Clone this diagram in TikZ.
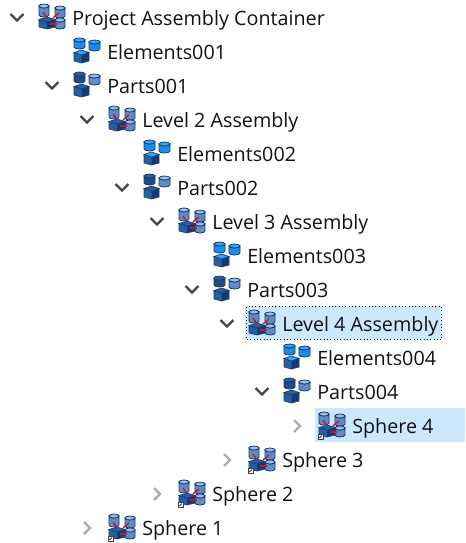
\documentclass[tikz,border=0pt]{standalone}
\usepackage{fontspec}
\setmainfont{Open Sans}
\usetikzlibrary{arrows.meta,positioning,calc}
\definecolor{TreeSelect}{HTML}{CCE8FF}
\definecolor{TreeText}{HTML}{111111}
\definecolor{CubeDark}{HTML}{143A70}
\definecolor{CubeMid}{HTML}{245FA6}
\definecolor{CylSteel}{HTML}{5F8CC6}
\definecolor{CylSteelTop}{HTML}{9DBBE0}
\definecolor{CylLine}{HTML}{1B3D70}
\definecolor{CylBright}{HTML}{1A8CEE}
\definecolor{CylBrightTop}{HTML}{2AA8FF}
\definecolor{CylNavy}{HTML}{1F4A86}
\definecolor{CylNavyTop}{HTML}{2C5C9C}
\definecolor{LinkRed}{HTML}{D0142C}
\definecolor{ChevDark}{HTML}{464646}
\definecolor{ChevLight}{HTML}{ABABAB}
% cylinder: x, y (top left), width, height, body colour, top colour
\newcommand{\cylshape}[6]{
  \fill[#5,draw=CylLine,line width=0.6pt] (#1,#2+2) -- (#1,#2+#4-2)
    arc[start angle=180,end angle=0,x radius=#3/2,y radius=2] -- (#1+#3,#2+2)
    arc[start angle=0,end angle=180,x radius=#3/2,y radius=2] -- cycle;
  \fill[#6,draw=CylLine,line width=0.6pt] (#1+#3/2,#2+2) ellipse[x radius=#3/2,y radius=2];
}
% cube: x, y (top left), width, height, top colour
\newcommand{\cubeshape}[5]{
  \fill[CubeDark,draw=CylLine,line width=0.5pt] (#1,#2+2.5) -- (#1+#3/2,#2+5) -- (#1+#3,#2+2.5)
    -- (#1+#3,#2+#4-2) -- (#1+#3/2,#2+#4) -- (#1,#2+#4-2) -- cycle;
  \fill[CubeMid] (#1+0.4,#2+2.9) -- (#1+#3/2,#2+5.4) -- (#1+#3/2,#2+#4-0.5) -- (#1+0.4,#2+#4-2.2) -- cycle;
  \fill[#5,draw=CylLine,line width=0.5pt] (#1,#2+2.5) -- (#1+#3/2,#2) -- (#1+#3,#2+2.5) -- (#1+#3/2,#2+5) -- cycle;
}
\begin{document}
\begin{tikzpicture}[
    x=0.75pt,y=-0.75pt,
    label/.style={
      anchor=base west,
      inner sep=0pt,
      text=TreeText,
      font=\fontsize{14.8}{16}\selectfont
    },
    open/.style={
      draw=ChevDark,
      line width=1.8pt
    },
    shut/.style={
      draw=ChevLight,
      line width=1.8pt
    },
    selected/.style={
      fill=TreeSelect
    },
    focus/.style={
      draw=black,
      line width=0.5pt,
      dotted
    },
    link/.style={
      draw=LinkRed,
      line width=1.1pt
    },
    badge/.style={
      fill=white,
      draw=black!75,
      line width=0.35pt
    },
    assembly/.pic={
      \cylshape{-13}{-14}{10}{13}{CylSteel}{CylSteelTop}
      \cylshape{3}{-12}{10}{12}{CylSteel}{CylSteelTop}
      \cylshape{3}{0}{10}{11}{CylSteel}{CylSteelTop}
      \cubeshape{-13}{-1}{16}{12}{CubeMid}
      \draw[link] (-9,-6) -- (-5,0);
      \draw[link] (7,-5) -- (1,0);
      \draw[link] (-2,6) -- (5,6);
    },
    elements/.pic={
      \cylshape{-13}{-14}{11}{11}{CylBright}{CylBrightTop}
      \cylshape{2}{-12}{11}{11}{CylBright}{CylBrightTop}
      \cubeshape{-13}{-2}{15}{13}{CylBrightTop}
    },
    partsset/.pic={
      \cylshape{-13}{-14}{11}{11}{CylNavy}{CylNavyTop}
      \cylshape{2}{-12}{11}{11}{CylSteel}{CylSteelTop}
      \cubeshape{-13}{-2}{15}{13}{CylNavyTop}
    },
    shortcut/.pic={
      \draw[badge] (-14,8.5) rectangle (-9,13);
      \draw[black,line width=0.5pt] (-12.8,12) -- (-10,9.5);
    }
  ]
  \useasboundingbox (0,0) rectangle (465,543);

  % Selection
  \fill[selected] (245,306) rectangle (442,340);
  \draw[focus] (246.5,306.5) rectangle (441.5,339.5);
  \fill[selected] (315,408) rectangle (465,442);

  % Expanded rows
  \draw[open] (10.5,14) -- (17,20.5) -- (23.5,14);
  \draw[open] (45.5,82) -- (52,88.5) -- (58.5,82);
  \draw[open] (80.5,116) -- (87,122.5) -- (93.5,116);
  \draw[open] (115.5,184) -- (122,190.5) -- (128.5,184);
  \draw[open] (150.5,218) -- (157,224.5) -- (163.5,218);
  \draw[open] (185.5,286) -- (192,292.5) -- (198.5,286);
  \draw[open] (220.5,320) -- (227,326.5) -- (233.5,320);
  \draw[open] (255.5,388) -- (262,394.5) -- (268.5,388);

  % Collapsed rows
  \draw[shut] (294,420) -- (300,426) -- (294,432);
  \draw[shut] (224,454) -- (230,460) -- (224,466);
  \draw[shut] (154,488) -- (160,494) -- (154,500);
  \draw[shut] (84,522) -- (90,528) -- (84,534);

  % Icons
  \pic at (52,18) {assembly};
  \pic at (87,52) {elements};
  \pic at (87,86) {partsset};
  \pic at (122,120) {assembly};
  \pic at (157,154) {elements};
  \pic at (157,188) {partsset};
  \pic at (192,222) {assembly};
  \pic at (227,256) {elements};
  \pic at (227,290) {partsset};
  \pic at (262,324) {assembly};
  \pic at (297,358) {elements};
  \pic at (297,392) {partsset};
  \pic at (332,426) {assembly};
  \pic at (332,426) {shortcut};
  \pic at (262,460) {assembly};
  \pic at (262,460) {shortcut};
  \pic at (192,494) {assembly};
  \pic at (192,494) {shortcut};
  \pic at (122,528) {assembly};
  \pic at (122,528) {shortcut};

  % Labels
  \node[label] (container) at (72,25) {Project Assembly Container};
  \node[label] (elements1) at (107,59) {Elements001};
  \node[label] (parts1)    at (107,93) {Parts001};
  \node[label] (level2)    at (142,127) {Level 2 Assembly};
  \node[label] (elements2) at (177,161) {Elements002};
  \node[label] (parts2)    at (177,195) {Parts002};
  \node[label] (level3)    at (212,229) {Level 3 Assembly};
  \node[label] (elements3) at (247,263) {Elements003};
  \node[label] (parts3)    at (247,297) {Parts003};
  \node[label] (level4)    at (282,331) {Level 4 Assembly};
  \node[label] (elements4) at (317,365) {Elements004};
  \node[label] (parts4)    at (317,399) {Parts004};
  \node[label] (sphere4)   at (352,433) {Sphere 4};
  \node[label] (sphere3)   at (282,467) {Sphere 3};
  \node[label] (sphere2)   at (212,501) {Sphere 2};
  \node[label] (sphere1)   at (142,535) {Sphere 1};

\end{tikzpicture}
\end{document}
